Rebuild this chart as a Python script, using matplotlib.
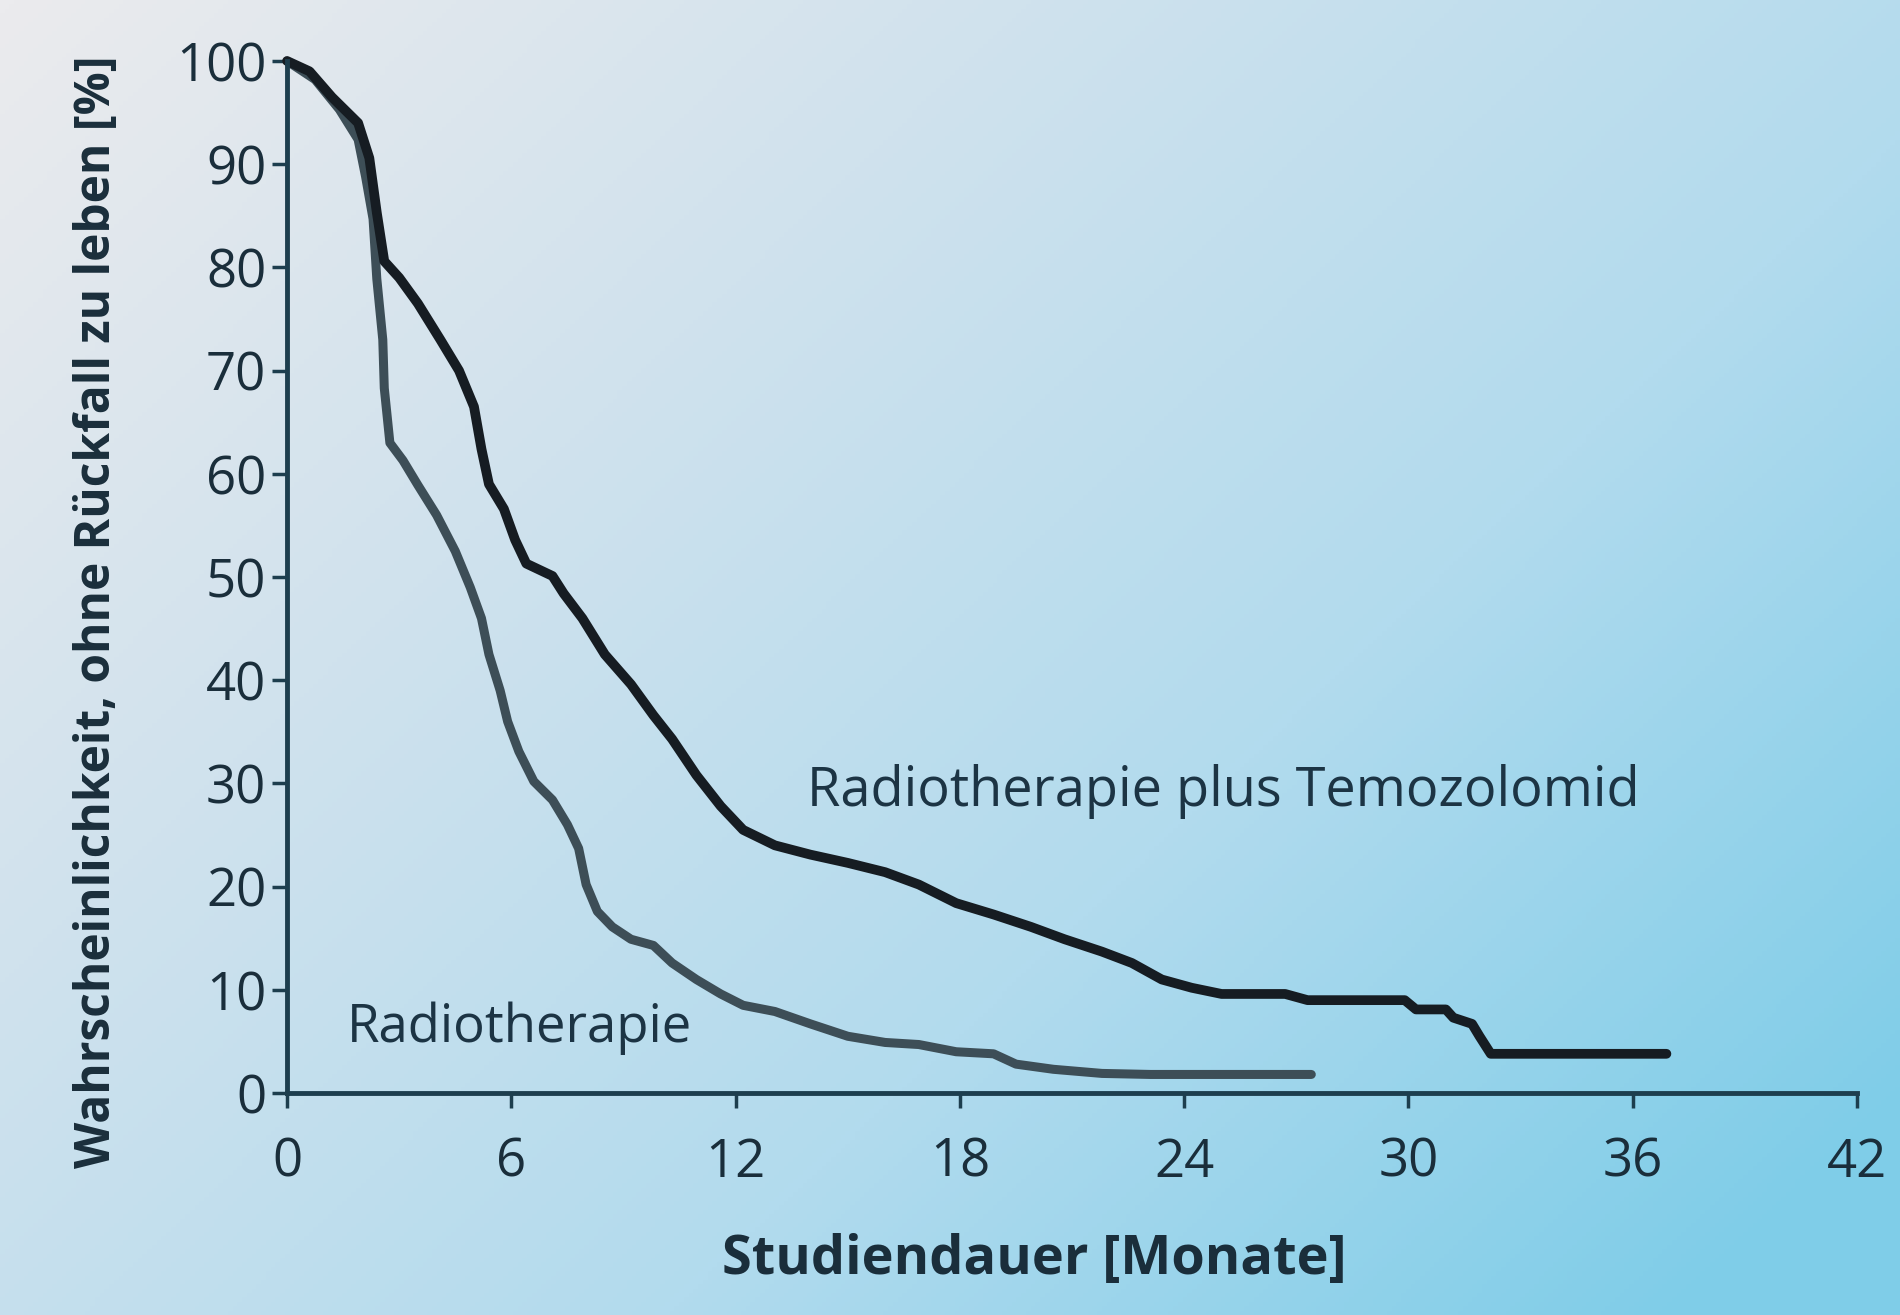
import matplotlib.pyplot as plt
import numpy as np
from matplotlib.colors import LinearSegmentedColormap

plt.rcParams['font.family'] = ['Open Sans', 'DejaVu Sans']

# Radiotherapie plus Temozolomid (months, percent)
tmz_months = [0, 0.6, 1.2, 1.9, 2.2, 2.4, 2.6, 3.0, 3.5, 4.1, 4.6, 5.0, 5.2, 5.4, 5.8,
              6.1, 6.4, 7.1, 7.4, 7.9, 8.5, 9.2, 9.8, 10.3, 10.95, 11.6, 12.2, 13.05,
              14.0, 15.0, 16.0, 16.9, 17.9, 18.9, 19.9, 20.8, 21.8, 22.6, 23.4, 24.2,
              25.0, 26.7, 27.3, 29.9, 30.2, 31.0, 31.2, 31.7, 31.9, 32.2, 36.9]
tmz_pct = [100, 99, 96.5, 94, 90.6, 85.3, 80.6, 79, 76.5, 73, 70, 66.5, 62.4, 59, 56.6,
           53.6, 51.3, 50.1, 48.4, 46, 42.5, 39.6, 36.6, 34.3, 30.8, 27.8, 25.5, 24,
           23.1, 22.3, 21.4, 20.2, 18.4, 17.3, 16.1, 14.9, 13.7, 12.6, 11.0, 10.2,
           9.6, 9.6, 9.0, 9.0, 8.1, 8.1, 7.3, 6.7, 5.5, 3.8, 3.8]

# Radiotherapie
rt_months = [0, 0.75, 1.4, 1.9, 2.1, 2.3, 2.4, 2.56, 2.6, 2.75, 3.1, 3.5, 4.0, 4.5, 4.9,
             5.2, 5.4, 5.7, 5.9, 6.2, 6.6, 7.1, 7.5, 7.8, 8.0, 8.3, 8.7, 9.2, 9.8, 10.3,
             10.95, 11.6, 12.2, 13.05, 14.0, 15.0, 16.0, 16.9, 17.9, 18.9, 19.5, 20.5,
             21.8, 23.1, 27.4]
rt_pct = [100, 98.2, 95.3, 92.4, 88.8, 84.7, 78.9, 73, 68.3, 63, 61.3, 58.9, 56, 52.5, 49,
          46, 42.5, 39, 36, 33.1, 30.2, 28.4, 26, 23.7, 20.2, 17.6, 16.1, 14.9, 14.3, 12.6,
          11.0, 9.6, 8.5, 7.9, 6.7, 5.5, 4.9, 4.7, 4.0, 3.8, 2.8, 2.3,
          1.9, 1.8, 1.8]

x_ticks = [0, 6, 12, 18, 24, 30, 36, 42]
y_ticks = [0, 10, 20, 30, 40, 50, 60, 70, 80, 90, 100]

fig = plt.figure(figsize=(19, 13.15), dpi=100)

# background gradient, grey top-left to blue bottom-right
bg = fig.add_axes([0, 0, 1, 1], zorder=-10)
gx, gy = np.meshgrid(np.linspace(0, 1, 400), np.linspace(0, 1, 300))
t = np.clip(0.62 * gx + 0.45 * gy, 0, 1)
cmap = LinearSegmentedColormap.from_list('bg', ['#ebebee', '#d0e2ed', '#b2dbee', '#7fcde8'])
bg.imshow(t, cmap=cmap, aspect='auto', extent=[0, 1, 0, 1], origin='upper')
bg.axis('off')

ax = fig.add_axes([0.1511, 0.1688, 0.8263, 0.7848])
ax.patch.set_alpha(0)

ax.plot(rt_months, rt_pct, color='#3d4e57', lw=6.5, solid_joinstyle='round',
        solid_capstyle='round', clip_on=False)
ax.plot(tmz_months, tmz_pct, color='#161c22', lw=7, solid_joinstyle='round',
        solid_capstyle='round', clip_on=False)

ax.set_xlim(0, 42)
ax.set_ylim(0, 100)
ax.set_xticks(x_ticks)
ax.set_yticks(y_ticks)

axis_col = '#1d3e4e'
for s in ['top', 'right']:
    ax.spines[s].set_visible(False)
for s in ['left', 'bottom']:
    ax.spines[s].set_color(axis_col)
    ax.spines[s].set_linewidth(3.5)
ax.tick_params(axis='both', direction='out', length=11, width=2.5, color=axis_col,
               labelsize=38, labelcolor='#1a2e3b')
ax.tick_params(axis='x', pad=20)
ax.tick_params(axis='y', pad=4)

ax.set_xlabel('Studiendauer [Monate]', fontsize=39, fontweight='bold', color='#1a2e3b',
              va='center')
ax.set_ylabel('Wahrscheinlichkeit, ohne Rückfall zu leben [%]', fontsize=34.5,
              fontweight='bold', color='#1a2e3b', va='center')
ax.xaxis.set_label_coords(0.476, -0.162)
ax.yaxis.set_label_coords(-0.121, 0.466)

ax.text(13.9, 29.2, 'Radiotherapie plus Temozolomid', fontsize=39, color='#1c3444',
        va='center', ha='left')
ax.text(1.6, 6.3, 'Radiotherapie', fontsize=38, color='#1c3444', va='center', ha='left')

fig.savefig('out.png', dpi=100)
